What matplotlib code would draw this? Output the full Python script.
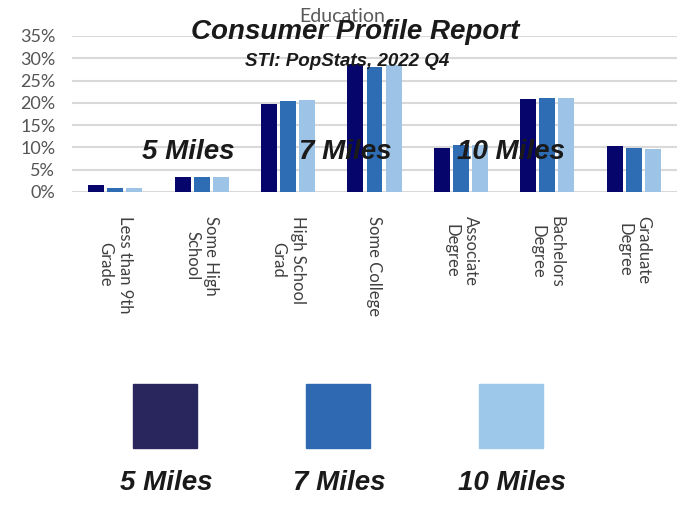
import numpy as np
import matplotlib
matplotlib.use("Agg")
from matplotlib import pyplot as plt
from matplotlib.patches import Rectangle

categories = ["Less than 9th\nGrade", "Some High\nSchool", "High School\nGrad", "Some College",
              "Associate\nDegree", "Bachelors\nDegree", "Graduate\nDegree"]
miles_5 = [1.5, 3.4, 19.7, 28.8, 9.8, 20.9, 10.4]
miles_7 = [1.0, 3.4, 20.4, 28.0, 10.5, 21.2, 9.9]
miles_10 = [1.0, 3.4, 20.6, 28.5, 10.6, 21.2, 9.6]
series_names = ["5 Miles", "7 Miles", "10 Miles"]

bar_colors = ["#05056b", "#2e6db4", "#9dc3e6"]
legend_colors = ["#29265e", "#2e69b1", "#9dc8ea"]

fig = plt.figure(figsize=(6.94, 5.08), dpi=100)
ax = fig.add_axes([72 / 694, 1 - 192 / 508, 605 / 694, 156 / 508])

x = np.arange(len(categories))
w = 0.185
step = 0.22
for i, vals in enumerate([miles_5, miles_7, miles_10]):
    ax.bar(x + (i - 1) * step, np.array(vals) / 100, w, color=bar_colors[i], zorder=3)

ax.set_xlim(-0.5, len(categories) - 0.5)
ax.set_ylim(0, 0.35)
ax.set_yticks(np.arange(0, 0.36, 0.05))
ax.set_yticklabels(["{}%".format(int(round(v * 100))) for v in np.arange(0, 0.36, 0.05)],
                   fontsize=13, family="Lato", color="#555555")
ax.set_xticks(x)
ax.set_xticklabels(categories, rotation=270, fontsize=12, family="Lato", color="#404040",
                   linespacing=1.25, va="top", ha="center")
ax.tick_params(axis="both", length=0)
ax.tick_params(axis="x", pad=17)
ax.tick_params(axis="y", pad=12)
ax.grid(axis="y", color="#d9d9d9", linewidth=1.5, zorder=0)
for s in ax.spines.values():
    s.set_visible(False)

fig.text(342 / 694, 1 - 17 / 508, "Education", fontsize=14, family="Lato", color="#595959",
         ha="center", va="center")

bold = dict(family="Liberation Sans", weight="bold", style="italic", color="#1a1a1a",
            ha="center", va="center")
fig.text(355 / 694, 1 - 32 / 508, "Consumer Profile Report", fontsize=20, **bold)
fig.text(347 / 694, 1 - 61 / 508, "STI: PopStats, 2022 Q4", fontsize=13.5, **bold)

for name, cx in zip(series_names, [188, 345, 511]):
    fig.text(cx / 694, 1 - 152 / 508, name, fontsize=20, **bold)

# legend squares
for name, col, left in zip(series_names, legend_colors, [133, 306, 479]):
    fig.patches.append(Rectangle((left / 694, 1 - 448 / 508), 64 / 694, 64 / 508,
                                 transform=fig.transFigure, color=col))
    fig.text((left + 33) / 694, 1 - 483 / 508, name, fontsize=20, **bold)

plt.savefig("out.png", dpi=100)
